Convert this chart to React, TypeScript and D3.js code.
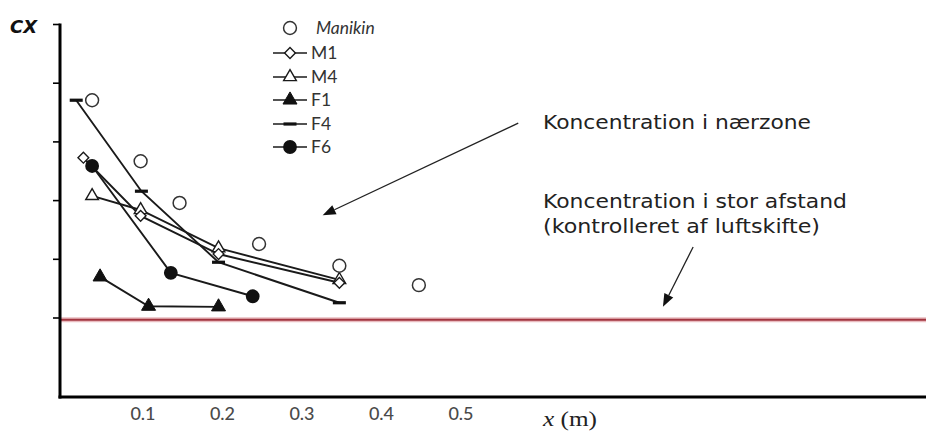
import React from "react";
import * as d3 from "d3";

// ---- data ----
const manikinX = [0.036, 0.097, 0.146, 0.246, 0.347, 0.447];
const manikinY = [4.71, 3.67, 2.96, 2.26, 1.89, 1.56];

const m1X = [0.025, 0.097, 0.195, 0.347];
const m1Y = [3.73, 2.74, 2.09, 1.6];

const m4X = [0.036, 0.097, 0.195, 0.347];
const m4Y = [3.08, 2.84, 2.19, 1.65];

const f1X = [0.046, 0.107, 0.195];
const f1Y = [1.7, 1.2, 1.19];

const f4X = [0.016, 0.098, 0.195, 0.347];
const f4Y = [4.71, 3.16, 1.95, 1.26];

const f6X = [0.036, 0.135, 0.238];
const f6Y = [3.59, 1.77, 1.37];

const xTicks = [0.1, 0.2, 0.3, 0.4, 0.5];
const yTicks = [1, 2, 3, 4, 5, 6];
const backgroundLevel = 0.97;

const legendLabels = ["Manikin", "M1", "M4", "F1", "F4", "F6"];

// annotation anchors in data space
const arrowNear = { from: [0.572, 4.32], to: [0.326, 2.75] };
const arrowFar = { from: [0.792, 2.21], to: [0.754, 1.19] };

const W = 926;
const H = 432;

const x = d3.scaleLinear().domain([0, 1]).range([63.5, 63.5 + 795]);
const y = d3.scaleLinear().domain([1, 6]).range([318, 24.5]);
const yBottom = 397;
const xAxisX = 60;

const zip = (xs: number[], ys: number[]) => xs.map((v, i) => [v, ys[i]] as [number, number]);
const line = d3
  .line<[number, number]>()
  .x((d) => x(d[0]))
  .y((d) => y(d[1]));

const circlePath = d3.symbol().type(d3.symbolCircle).size(130)()!;
const filledCirclePath = d3.symbol().type(d3.symbolCircle).size(150)()!;
const trianglePath = d3.symbol().type(d3.symbolTriangle).size(70)()!;
const filledTrianglePath = d3.symbol().type(d3.symbolTriangle).size(85)()!;
const diamondPath = d3.symbol().type(d3.symbolSquare).size(58)()!;

const ink = "#1a1a1a";

type Kind = "manikin" | "m1" | "m4" | "f1" | "f4" | "f6";

function Marker({ kind, cx, cy }: { kind: Kind; cx: number; cy: number }) {
  switch (kind) {
    case "manikin":
      return <path d={circlePath} transform={`translate(${cx},${cy})`} fill="#fff" stroke="#333" strokeWidth={1.5} />;
    case "m1":
      return (
        <path d={diamondPath} transform={`translate(${cx},${cy}) rotate(45)`} fill="#fff" stroke={ink} strokeWidth={1.4} />
      );
    case "m4":
      return <path d={trianglePath} transform={`translate(${cx},${cy})`} fill="#fff" stroke={ink} strokeWidth={1.4} />;
    case "f1":
      return <path d={filledTrianglePath} transform={`translate(${cx},${cy})`} fill="#111" stroke="#111" strokeWidth={1} />;
    case "f4":
      return <rect x={cx - 6.5} y={cy - 1.6} width={13} height={3.2} fill="#111" />;
    case "f6":
      return <path d={filledCirclePath} transform={`translate(${cx},${cy})`} fill="#111" />;
  }
}

function Arrow({ from, to }: { from: number[]; to: number[] }) {
  const x1 = x(from[0]);
  const y1 = y(from[1]);
  const x2 = x(to[0]);
  const y2 = y(to[1]);
  const ang = Math.atan2(y2 - y1, x2 - x1);
  const L = 13;
  const hw = 5;
  const bx = x2 - L * Math.cos(ang);
  const by = y2 - L * Math.sin(ang);
  const px = -Math.sin(ang) * hw;
  const py = Math.cos(ang) * hw;
  return (
    <g>
      <line x1={x1} y1={y1} x2={bx} y2={by} stroke="#222" strokeWidth={1.3} />
      <path d={`M${x2},${y2}L${bx + px},${by + py}L${bx - px},${by - py}Z`} fill="#111" />
    </g>
  );
}

export default function App() {
  const series: { kind: Kind; pts: [number, number][]; lined: boolean }[] = [
    { kind: "f4", pts: zip(f4X, f4Y), lined: true },
    { kind: "f1", pts: zip(f1X, f1Y), lined: true },
    { kind: "f6", pts: zip(f6X, f6Y), lined: true },
    { kind: "m4", pts: zip(m4X, m4Y), lined: true },
    { kind: "m1", pts: zip(m1X, m1Y), lined: true },
    { kind: "manikin", pts: zip(manikinX, manikinY), lined: false },
  ];
  const legendKinds: Kind[] = ["manikin", "m1", "m4", "f1", "f4", "f6"];
  const legendY = [28, 53, 77, 100, 124, 147];

  return (
    <svg
      width={W}
      height={H}
      viewBox={`0 0 ${W} ${H}`}
      style={{ position: "absolute", left: 0, top: 0, background: "#fff" }}
    >
      <rect width={W} height={H} fill="#fff" />

      {/* background concentration line */}
      <line x1={xAxisX} x2={W} y1={y(backgroundLevel)} y2={y(backgroundLevel)} stroke="#e9bcc0" strokeWidth={5} />
      <line x1={xAxisX} x2={W} y1={y(backgroundLevel)} y2={y(backgroundLevel)} stroke="#a2353f" strokeWidth={2} />

      {/* series lines */}
      {series
        .filter((s) => s.lined)
        .map((s) => (
          <path key={s.kind + "l"} d={line(s.pts)!} fill="none" stroke={ink} strokeWidth={1.9} />
        ))}
      {/* markers */}
      {series.map((s) =>
        s.pts.map((p, i) => <Marker key={s.kind + i} kind={s.kind} cx={x(p[0])} cy={y(p[1])} />)
      )}

      {/* axes */}
      <line x1={xAxisX} x2={xAxisX} y1={y(6) - 1} y2={yBottom + 1.5} stroke="#000" strokeWidth={3} />
      <line x1={xAxisX - 1.5} x2={W} y1={yBottom} y2={yBottom} stroke="#000" strokeWidth={3} />
      {yTicks.map((t) => (
        <line key={t} x1={xAxisX - 7} x2={xAxisX} y1={y(t)} y2={y(t)} stroke="#000" strokeWidth={1.6} />
      ))}
      {xTicks.map((t) => (
        <text
          key={t}
          x={x(t)}
          y={420}
          textAnchor="middle"
          fontFamily="Lato, 'Open Sans', sans-serif"
          fontSize={18}
          fontWeight={500}
          fill="#4a4a4a"
        >
          {t.toFixed(1)}
        </text>
      ))}
      <text x={543} y={426} fontFamily="'Liberation Serif', serif" fontSize={20} fill="#222" textLength={54} lengthAdjust="spacingAndGlyphs">
        <tspan fontStyle="italic">x</tspan> (m)
      </text>
      <text x={10} y={33} fontFamily="'DejaVu Sans', sans-serif" fontWeight="bold" fontStyle="italic" fontSize={18} fill="#111">
        CX
      </text>

      {/* legend */}
      {legendKinds.map((k, i) => (
        <g key={k}>
          {k !== "manikin" && <line x1={273} x2={307} y1={legendY[i]} y2={legendY[i]} stroke={ink} strokeWidth={1.7} />}
          <Marker kind={k} cx={290} cy={legendY[i]} />
          <text
            x={k === "manikin" ? 316 : 311}
            y={legendY[i] + 6}
            fontFamily="Lato, 'Open Sans', sans-serif"
            fontSize={17.5}
            fontStyle={k === "manikin" ? "italic" : "normal"}
            fill="#333"
          >
            {legendLabels[i]}
          </text>
        </g>
      ))}

      {/* annotations */}
      <Arrow from={arrowNear.from} to={arrowNear.to} />
      <Arrow from={arrowFar.from} to={arrowFar.to} />
      <g fontFamily="'DejaVu Sans', Verdana, sans-serif" fontSize={20} fill="#222">
        <text x={543} y={129} textLength={268} lengthAdjust="spacingAndGlyphs">
          Koncentration i nærzone
        </text>
        <text x={543} y={208} textLength={304} lengthAdjust="spacingAndGlyphs">
          Koncentration i stor afstand
        </text>
        <text x={543} y={233} textLength={277} lengthAdjust="spacingAndGlyphs">
          (kontrolleret af luftskifte)
        </text>
      </g>
    </svg>
  );
}
